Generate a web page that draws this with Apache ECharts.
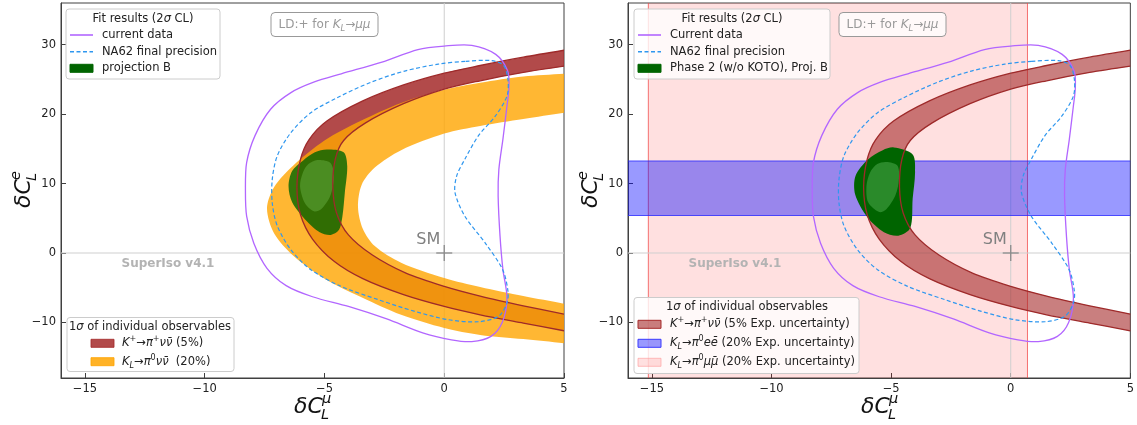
<!DOCTYPE html>
<html><head><meta charset="utf-8">
<script src="https://cdn.jsdelivr.net/npm/echarts@6/dist/echarts.min.js"></script>
<style>html,body{margin:0;padding:0;background:#fff}#c{width:1137px;height:425px}</style>
</head><body><div id="c"></div>
<script>
// ---------------- data ----------------
const xTicks = [-15, -10, -5, 0, 5];
const yTicks = [-10, 0, 10, 20, 30];
const xRange = [-16, 5];
const yRange = [-18, 36];

// Fit results (2 sigma CL) contours
const currentData = [[1.15,29.9],[0.0,29.8],[-1.1,29.3],[-2.6,27.5],[-4.3,25.8],[-5.45,24.6],[-6.4,23.1],[-7.25,20.7],[-7.9,16.9],[-8.25,13.0],[-8.3,9.1],[-8.25,5.3],[-7.95,1.4],[-7.4,-2.2],[-6.6,-4.7],[-5.5,-6.3],[-4.0,-7.7],[-2.4,-9.5],[-0.9,-11.5],[0.3,-12.5],[1.15,-12.75],[1.95,-12.0],[2.42,-10.0],[2.62,-6.5],[2.45,-2.4],[2.33,2.4],[2.25,8.2],[2.28,12.0],[2.45,16.4],[2.62,21.2],[2.7,23.8],[2.65,26.2],[2.15,28.6]];
const na62Final = [[0.87,27.6],[-0.25,27.2],[-1.65,26.2],[-3.05,24.6],[-4.45,22.4],[-5.57,20.2],[-6.41,17.3],[-6.97,14.0],[-7.18,10.6],[-7.18,7.2],[-6.97,3.9],[-6.41,0.5],[-5.57,-2.4],[-4.31,-4.8],[-2.77,-6.7],[-1.23,-8.4],[0.17,-9.6],[1.43,-9.9],[2.27,-9.1],[2.62,-7.2],[2.66,-5.5],[2.44,-2.4],[1.72,1.4],[0.86,5.3],[0.45,8.7],[0.52,11.1],[0.86,13.5],[1.43,16.9],[2.13,19.7],[2.62,22.6],[2.66,25.0],[2.48,27.0],[1.99,27.7]];
const projBOuter = [[-4.9,14.9],[-4.2,14.5],[-4.05,12.5],[-4.15,8.7],[-4.25,5.3],[-4.4,3.3],[-4.75,2.6],[-5.2,3.0],[-5.8,4.8],[-6.35,7.3],[-6.5,9.6],[-6.35,11.8],[-5.9,13.3],[-5.4,14.5]];
const projBInner = [[-5.3,13.4],[-4.76,13.0],[-4.6,11.1],[-4.76,8.2],[-5.14,6.3],[-5.44,6.0],[-5.82,7.2],[-6.02,9.6],[-5.9,11.6],[-5.67,12.8]];
const phase2Outer = [[-4.89,15.2],[-4.1,14.2],[-4.0,11.6],[-4.1,7.8],[-4.2,3.6],[-4.7,2.5],[-5.3,3.0],[-6.0,5.2],[-6.5,8.4],[-6.49,11.1],[-5.96,13.5],[-5.35,14.8]];
const phase2Inner = [[-5.2,13.1],[-4.74,12.6],[-4.67,10.7],[-4.82,8.3],[-5.2,6.3],[-5.5,5.9],[-5.96,7.3],[-6.03,9.7],[-5.88,11.6],[-5.58,12.8]];

// 1 sigma of individual observables
const kpOuter = [[5,29.2],[3.3,28.2],[1.5,27.0],[0,25.9],[-1.7,24.2],[-3.4,21.9],[-4.9,19.0],[-5.65,16.3],[-6.0,13.5],[-6.15,9.5],[-6.0,5.5],[-5.5,2.0],[-4.6,-1.2],[-3.4,-3.7],[-1.7,-6.0],[0,-7.7],[1.5,-8.9],[3.3,-10.1],[5,-11.2]];
const kpInner = [[5,26.9],[3.3,26.0],[1.5,24.8],[0,23.6],[-1.7,21.5],[-3.3,18.7],[-4.2,16.2],[-4.55,13.5],[-4.65,9.5],[-4.5,5.8],[-4.0,2.6],[-3.0,-0.3],[-1.6,-2.9],[0,-4.8],[1.5,-6.2],[3.3,-7.6],[5,-8.8]];
const klOuter = [[5,25.8],[3.3,25.4],[1.5,24.5],[0,23.5],[-1.8,21.6],[-3.5,19.0],[-5.0,16.2],[-6.3,12.6],[-7.1,9.5],[-7.4,6.4],[-7.1,2.8],[-6.3,-0.4],[-5.0,-3.7],[-3.5,-6.3],[-1.8,-8.9],[0,-10.8],[1.5,-11.8],[3.3,-12.4],[5,-13.0]];
const klInner = [[5,20.2],[3.3,19.3],[1.5,18.3],[0,17.2],[-1.8,14.8],[-2.9,12.3],[-3.45,9.8],[-3.6,6.6],[-3.4,3.5],[-2.9,1.0],[-1.8,-1.4],[0,-3.6],[1.5,-4.9],[3.3,-6.2],[5,-7.3]];
const klMuMuBand = [-15.15, 0.7];   // x-range of K_L -> pi0 mu mu band
const klEEBand = [5.4, 13.25];      // y-range of K_L -> pi0 e e band
const smPoint = [[0, 0]];

// ---------------- rendering ----------------
const F = 'DejaVu Sans';
const SMOOTH = 0.3;
const fmt = v => v < 0 ? '\u2212' + Math.abs(v) : String(v);

function readPts(params, api) {
  const pts = [];
  for (let i = 0; i < params.dataInsideLength; i++) pts.push(api.coord([api.value(0, i), api.value(1, i)]));
  return pts;
}
function base(gi, data, z) {
  return {type:'custom', coordinateSystem:'cartesian2d', xAxisIndex:gi, yAxisIndex:gi, clip:true, silent:true, z, data, encode:{x:0, y:1}};
}
function polySeries(gi, data, style, z) {
  const s = base(gi, data, z);
  s.renderItem = (params, api) => {
    if (params.dataIndexInside !== 0) return null;
    return {type:'polygon', shape:{points:readPts(params, api), smooth:SMOOTH}, style};
  };
  return s;
}
function lineSeries(gi, data, style, z) {
  const s = base(gi, data, z);
  s.renderItem = (params, api) => {
    if (params.dataIndexInside !== 0) return null;
    return {type:'polyline', shape:{points:readPts(params, api), smooth:SMOOTH}, style};
  };
  return s;
}
function ringSeries(gi, outer, inner, style, z) {
  const data = outer.concat(inner.slice().reverse());
  const nO = outer.length;
  const s = base(gi, data, z);
  s.renderItem = (params, api) => {
    if (params.dataIndexInside !== 0) return null;
    const raw = readPts(params, api), n = raw.length, pts = [];
    raw.forEach((p, i) => { pts.push(p); if (i === 0 || i === nO - 1 || i === nO || i === n - 1) pts.push(p.slice()); });
    return {type:'polygon', shape:{points:pts, smooth:SMOOTH}, style};
  };
  return s;
}
function gridLines(gi, z) {
  const s = base(gi, smPoint, z);
  s.renderItem = (params, api) => {
    const c = api.coord([api.value(0), api.value(1)]), cs = params.coordSys;
    const st = {stroke:'#cfcfcf', lineWidth:1};
    return {type:'group', children:[
      {type:'line', shape:{x1:c[0], y1:cs.y, x2:c[0], y2:cs.y + cs.height}, style:st},
      {type:'line', shape:{x1:cs.x, y1:c[1], x2:cs.x + cs.width, y2:c[1]}, style:st}]};
  };
  return s;
}
function smSeries(gi, z) {
  const s = base(gi, smPoint, z);
  s.renderItem = (params, api) => {
    const c = api.coord([api.value(0), api.value(1)]);
    const st = {stroke:'#8a8a8a', lineWidth:1.3};
    return {type:'group', children:[
      {type:'line', shape:{x1:c[0]-8, y1:c[1], x2:c[0]+8, y2:c[1]}, style:st},
      {type:'line', shape:{x1:c[0], y1:c[1]-8, x2:c[0], y2:c[1]+8}, style:st},
      {type:'text', x:c[0]-16, y:c[1]-13, style:{text:'SM', fontSize:16, fontFamily:F, fill:'#808080', align:'center', verticalAlign:'middle'}}]};
  };
  return s;
}
function vBandSeries(gi, band, z) {
  const s = base(gi, [band], z);
  s.renderItem = (params, api) => {
    const x0 = api.coord([api.value(0), 0])[0], x1 = api.coord([api.value(1), 0])[0], cs = params.coordSys;
    const ls = {stroke:'rgba(240,70,70,0.75)', lineWidth:1};
    return {type:'group', children:[
      {type:'rect', shape:{x:x0, y:cs.y, width:x1 - x0, height:cs.height}, style:{fill:'rgba(255,0,0,0.12)'}},
      {type:'line', shape:{x1:x0, y1:cs.y, x2:x0, y2:cs.y + cs.height}, style:ls},
      {type:'line', shape:{x1:x1, y1:cs.y, x2:x1, y2:cs.y + cs.height}, style:ls}]};
  };
  return s;
}
function hBandSeries(gi, band, z) {
  const s = base(gi, [band], z);
  s.renderItem = (params, api) => {
    const y0 = api.coord([0, api.value(0)])[1], y1 = api.coord([0, api.value(1)])[1], cs = params.coordSys;
    const ls = {stroke:'rgba(40,40,255,0.8)', lineWidth:1};
    return {type:'group', children:[
      {type:'rect', shape:{x:cs.x, y:y1, width:cs.width, height:y0 - y1}, style:{fill:'rgba(0,0,255,0.4)'}},
      {type:'line', shape:{x1:cs.x, y1:y0, x2:cs.x + cs.width, y2:y0}, style:ls},
      {type:'line', shape:{x1:cs.x, y1:y1, x2:cs.x + cs.width, y2:y1}, style:ls}]};
  };
  return s;
}

const purpleStyle = {fill:'none', stroke:'#b266ff', lineWidth:1.3};
const blueStyle = {fill:'none', stroke:'#2f97ef', lineWidth:1.2, lineDash:[4, 2.5]};
const edgeStyle = {fill:'none', stroke:'#9e2a2a', lineWidth:1.3};

const series = [
  // left panel
  gridLines(0, 1),
  ringSeries(0, kpOuter, kpInner, {fill:'rgba(165,42,42,0.85)'}, 2),
  ringSeries(0, klOuter, klInner, {fill:'rgba(255,165,0,0.8)'}, 3),
  polySeries(0, projBOuter, {fill:'rgba(0,100,0,0.8)'}, 4),
  polySeries(0, projBInner, {fill:'#4b8d22'}, 5),
  lineSeries(0, kpOuter, edgeStyle, 6),
  lineSeries(0, kpInner, edgeStyle, 6),
  polySeries(0, currentData, purpleStyle, 7),
  polySeries(0, na62Final, blueStyle, 7),
  smSeries(0, 8),
  // right panel
  vBandSeries(1, klMuMuBand, 1),
  gridLines(1, 1),
  ringSeries(1, kpOuter, kpInner, {fill:'rgba(165,42,42,0.6)'}, 2),
  hBandSeries(1, klEEBand, 3),
  polySeries(1, phase2Outer, {fill:'#006400'}, 4),
  polySeries(1, phase2Inner, {fill:'#2a8a2a'}, 5),
  lineSeries(1, kpOuter, edgeStyle, 6),
  lineSeries(1, kpInner, edgeStyle, 6),
  polySeries(1, currentData, purpleStyle, 7),
  polySeries(1, na62Final, blueStyle, 7),
  smSeries(1, 8)
];

// ---------------- annotations ----------------
function R(fs, col) {
  return {
    n:{fontSize:fs, fontFamily:F, fill:col, lineHeight:16},
    i:{fontSize:fs, fontFamily:F, fontStyle:'italic', fill:col, lineHeight:16},
    p:{fontSize:fs*0.7, fontFamily:F, fill:col, lineHeight:7, verticalAlign:'top'},
    b:{fontSize:fs*0.7, fontFamily:F, fontStyle:'italic', fill:col, lineHeight:8, verticalAlign:'bottom'}
  };
}
const rich = R(11.5, '#222');
const Z = 100;
function txt(x, y, text, align) {
  return {type:'text', x, y, z:Z, silent:true, style:{text, rich, fontSize:11.5, fontFamily:F, fill:'#222', align:align || 'left', verticalAlign:'middle'}};
}
function box(x, y, w, h) {
  return {type:'rect', z:Z - 1, silent:true, shape:{x, y, width:w, height:h, r:3}, style:{fill:'rgba(255,255,255,0.8)', stroke:'#cccccc', lineWidth:1}};
}
function lineSample(x, y, style) {
  return {type:'line', z:Z, silent:true, shape:{x1:x, y1:y, x2:x + 23, y2:y}, style:Object.assign({fill:'none'}, style, {lineWidth:1.6})};
}
function patch(x, y, fill, stroke) {
  return {type:'rect', z:Z, silent:true, shape:{x, y:y - 4, width:23, height:8}, style:{fill, stroke:stroke || fill, lineWidth:1}};
}
function ldBox(x) {
  return [
    {type:'rect', z:Z - 1, silent:true, shape:{x, y:12.5, width:107, height:24, r:4}, style:{fill:'rgba(255,255,255,0.8)', stroke:'#999', lineWidth:1}},
    {type:'text', x:x + 53.5, y:24.5, z:Z, silent:true, style:{text:'{n|LD:+ for }{i|K}{b|L}{n|\u2192}{i|\u03bc\u03bc}', rich:R(12, '#999'), align:'center', verticalAlign:'middle'}}
  ];
}
function axisTitles(ox) {
  const big = {fontSize:22, fontFamily:F, fontStyle:'italic', fill:'#111', verticalAlign:'middle'};
  const sm = {fontSize:14.5, fontFamily:F, fontStyle:'italic', fill:'#111', verticalAlign:'middle'};
  return [
    {type:'text', x:ox + 294, y:407, z:Z, silent:true, style:Object.assign({text:'\u03b4C'}, big)},
    {type:'text', x:ox + 322, y:399.5, z:Z, silent:true, style:Object.assign({text:'\u03bc'}, sm)},
    {type:'text', x:ox + 321, y:415, z:Z, silent:true, style:Object.assign({text:'L'}, sm)},
    {type:'group', x:ox + 24, y:190, rotation:Math.PI / 2, silent:true, children:[
      {type:'text', x:-18, y:0, z:Z, style:Object.assign({text:'\u03b4C'}, big)},
      {type:'text', x:10, y:-7.5, z:Z, style:Object.assign({text:'e'}, sm)},
      {type:'text', x:9, y:8, z:Z, style:Object.assign({text:'L'}, sm)}]}
  ];
}
const superIso = x => ({type:'text', x, y:263.5, z:Z, silent:true, style:{text:'SuperIso v4.1', fontSize:12, fontWeight:'bold', fontFamily:F, fill:'#b3b3b3', verticalAlign:'middle'}});

const graphic = [].concat(
  // left top legend
  box(66, 9, 154, 70),
  txt(143, 19, '{n|Fit results (2}{i|\u03c3}{n| CL)}', 'center'),
  lineSample(70, 35, purpleStyle), txt(102, 35, '{n|current data}'),
  lineSample(70, 51.7, blueStyle), txt(102, 51.7, '{n|NA62 final precision}'),
  patch(70, 68.3, '#006400'), txt(102, 68.3, '{n|projection B}'),
  // left bottom legend
  box(67, 317.5, 167, 54),
  txt(150, 326.7, '{n|1}{i|\u03c3}{n| of individual observables}', 'center'),
  patch(91, 343.3, 'rgba(165,42,42,0.85)'), txt(122, 343.3, '{i|K}{p|+}{n|\u2192}{i|\u03c0}{p|+}{i|\u03bd\u03bd\u0304}{n| (5%)}'),
  patch(91, 361.7, 'rgba(255,165,0,0.85)'), txt(122, 361.7, '{i|K}{b|L}{n|\u2192}{i|\u03c0}{p|0}{i|\u03bd\u03bd\u0304}{n|  (20%)}'),
  ldBox(271), superIso(121.5), axisTitles(0),
  // right top legend
  box(634, 9, 196, 70),
  txt(732, 19, '{n|Fit results (2}{i|\u03c3}{n| CL)}', 'center'),
  lineSample(638, 35, purpleStyle), txt(670, 35, '{n|Current data}'),
  lineSample(638, 51.7, blueStyle), txt(670, 51.7, '{n|NA62 final precision}'),
  patch(638, 68.3, '#006400'), txt(670, 68.3, '{n|Phase 2 (w/o KOTO), Proj. B}'),
  // right bottom legend
  box(634, 297.5, 225, 76),
  txt(747, 306.7, '{n|1}{i|\u03c3}{n| of individual observables}', 'center'),
  patch(638, 324.3, 'rgba(165,42,42,0.6)', '#a52a2a'), txt(670, 324.3, '{i|K}{p|+}{n|\u2192}{i|\u03c0}{p|+}{i|\u03bd\u03bd\u0304}{n| (5% Exp. uncertainty)}'),
  patch(638, 343.3, 'rgba(0,0,255,0.4)', '#3a3aff'), txt(670, 343.3, '{i|K}{b|L}{n|\u2192}{i|\u03c0}{p|0}{i|ee\u0304}{n| (20% Exp. uncertainty)}'),
  patch(638, 362.3, 'rgba(255,0,0,0.12)', 'rgba(255,150,150,0.6)'), txt(670, 362.3, '{i|K}{b|L}{n|\u2192}{i|\u03c0}{p|0}{i|\u03bc\u03bc\u0304}{n| (20% Exp. uncertainty)}'),
  ldBox(839), superIso(688.5), axisTitles(567)
);

const axisCommon = (ticks, range) => ({
  type:'value', min:range[0], max:range[1],
  axisLine:{show:true, onZero:false, lineStyle:{color:'#404040', width:1}},
  axisTick:{show:true, inside:true, length:5, customValues:ticks, lineStyle:{color:'#404040'}},
  axisLabel:{customValues:ticks, formatter:fmt, fontSize:11.5, fontFamily:F, color:'#222', margin:5},
  splitLine:{show:false}
});

const chart = echarts.init(document.getElementById('c'), null, {renderer:'canvas'});
chart.setOption({
  animation:false,
  backgroundColor:'#fff',
  grid:[
    {left:61, top:3, width:503, height:375, show:true, borderColor:'#404040', borderWidth:1, containLabel:false},
    {left:628, top:3, width:503, height:375, show:true, borderColor:'#404040', borderWidth:1, containLabel:false}
  ],
  xAxis:[0, 1].map(i => Object.assign(axisCommon(xTicks, xRange), {gridIndex:i})),
  yAxis:[0, 1].map(i => Object.assign(axisCommon(yTicks, yRange), {gridIndex:i})),
  series,
  graphic
});
</script></body></html>
